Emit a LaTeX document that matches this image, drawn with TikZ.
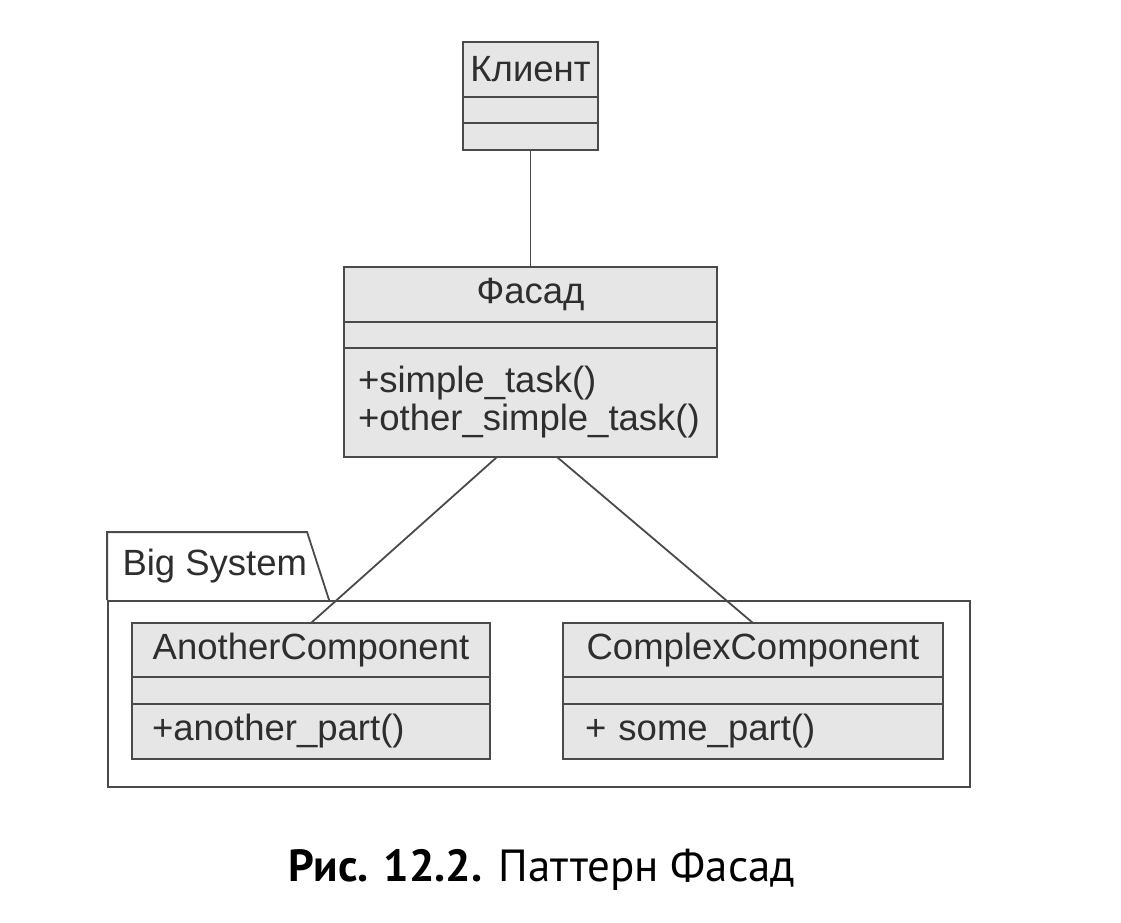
\documentclass[tikz,border=0pt]{standalone}
\usepackage{fontspec}
\setmainfont{Liberation Sans}
\newfontfamily\capfont{PT Sans}
\usetikzlibrary{positioning}
\definecolor{UmlFill}{HTML}{E6E6E6}
\definecolor{UmlLine}{HTML}{4A4A4A}
\definecolor{UmlText}{HTML}{2E2E2E}
\tikzset{
  umlBase/.style={
    draw=UmlLine,
    fill=UmlFill,
    line width=1.8pt,
    text=UmlText,
    font=\fontsize{36.5pt}{38pt}\selectfont,
    inner sep=0pt,
    outer sep=0pt
  },
  umlName/.style={
    umlBase,
    minimum height=55pt
  },
  umlAttr/.style={
    umlBase,
    minimum height=26pt
  },
  umlOps/.style={
    umlBase,
    align=left,
    inner xsep=14pt
  },
  umlLink/.style={
    draw=UmlLine,
    line width=1.8pt
  },
  pkgFrame/.style={
    draw=UmlLine,
    line width=1.8pt,
    fill=white,
    inner sep=0pt
  }
}
\begin{document}
\begin{tikzpicture}[x=1pt, y=-1pt]
        \fill[white] (0,0) rectangle (1121,922);
        \useasboundingbox (0,0) rectangle (1121,922);

        % client class
        \node (klient) [umlName, minimum width=135pt] at (530.5,69.5) {Клиент};
        \node (klientAttr) [umlAttr, below=0pt of klient, minimum width=135pt] {};
        \node (klientOps) [umlAttr, below=0pt of klientAttr, minimum width=135pt, minimum height=27pt] {};

        % facade class
        \node (fasad) [umlName, minimum width=373pt] at (530.5,294.5) {Фасад};
        \node (fasadAttr) [umlAttr, below=0pt of fasad, minimum width=373pt] {};
        \node (fasadOps) [umlOps, below=0pt of fasadAttr, text width=345pt, minimum height=109pt] {
          +simple\_task()\\
          +other\_simple\_task()
        };

        % package
        \node (pkg) [pkgFrame, minimum width=862pt, minimum height=186pt] at (539,694) {};
        \draw [umlLink] (pkg.north west) -- ++(0,-68) -- ++(200,0) -- ++(22,68);
        \node (pkgName) [text=UmlText, font=\fontsize{36.5pt}{38pt}\selectfont, anchor=west] at (119,566) {Big System};

        % components
        \node (another) [umlName, minimum width=358pt, minimum height=54pt] at (311,650) {AnotherComponent};
        \node (anotherAttr) [umlAttr, below=0pt of another, minimum width=358pt, minimum height=27pt] {};
        \node (anotherOps) [umlOps, below=0pt of anotherAttr, inner xsep=20pt, text width=318pt, minimum height=55pt] {+another\_part()};

        \node (complex) [umlName, minimum width=380pt, minimum height=54pt] at (753,650) {ComplexComponent};
        \node (complexAttr) [umlAttr, below=0pt of complex, minimum width=380pt, minimum height=27pt] {};
        \node (complexOps) [umlOps, below=0pt of complexAttr, inner xsep=22pt, text width=336pt, minimum height=55pt] {+ some\_part()};

        \draw [umlLink] (klientOps.south) -- (fasad.north);
        \draw [umlLink] ([xshift=-33.5pt]fasadOps.south) -- (another.north);
        \draw [umlLink] ([xshift=26.5pt]fasadOps.south) -- (complex.north);

        % caption
        \node (caption) [font=\capfont\fontsize{45pt}{47pt}\selectfont, anchor=base] at (542,881) {\textbf{Рис. 12.2.} Паттерн Фасад};
      \end{tikzpicture}
\end{document}
